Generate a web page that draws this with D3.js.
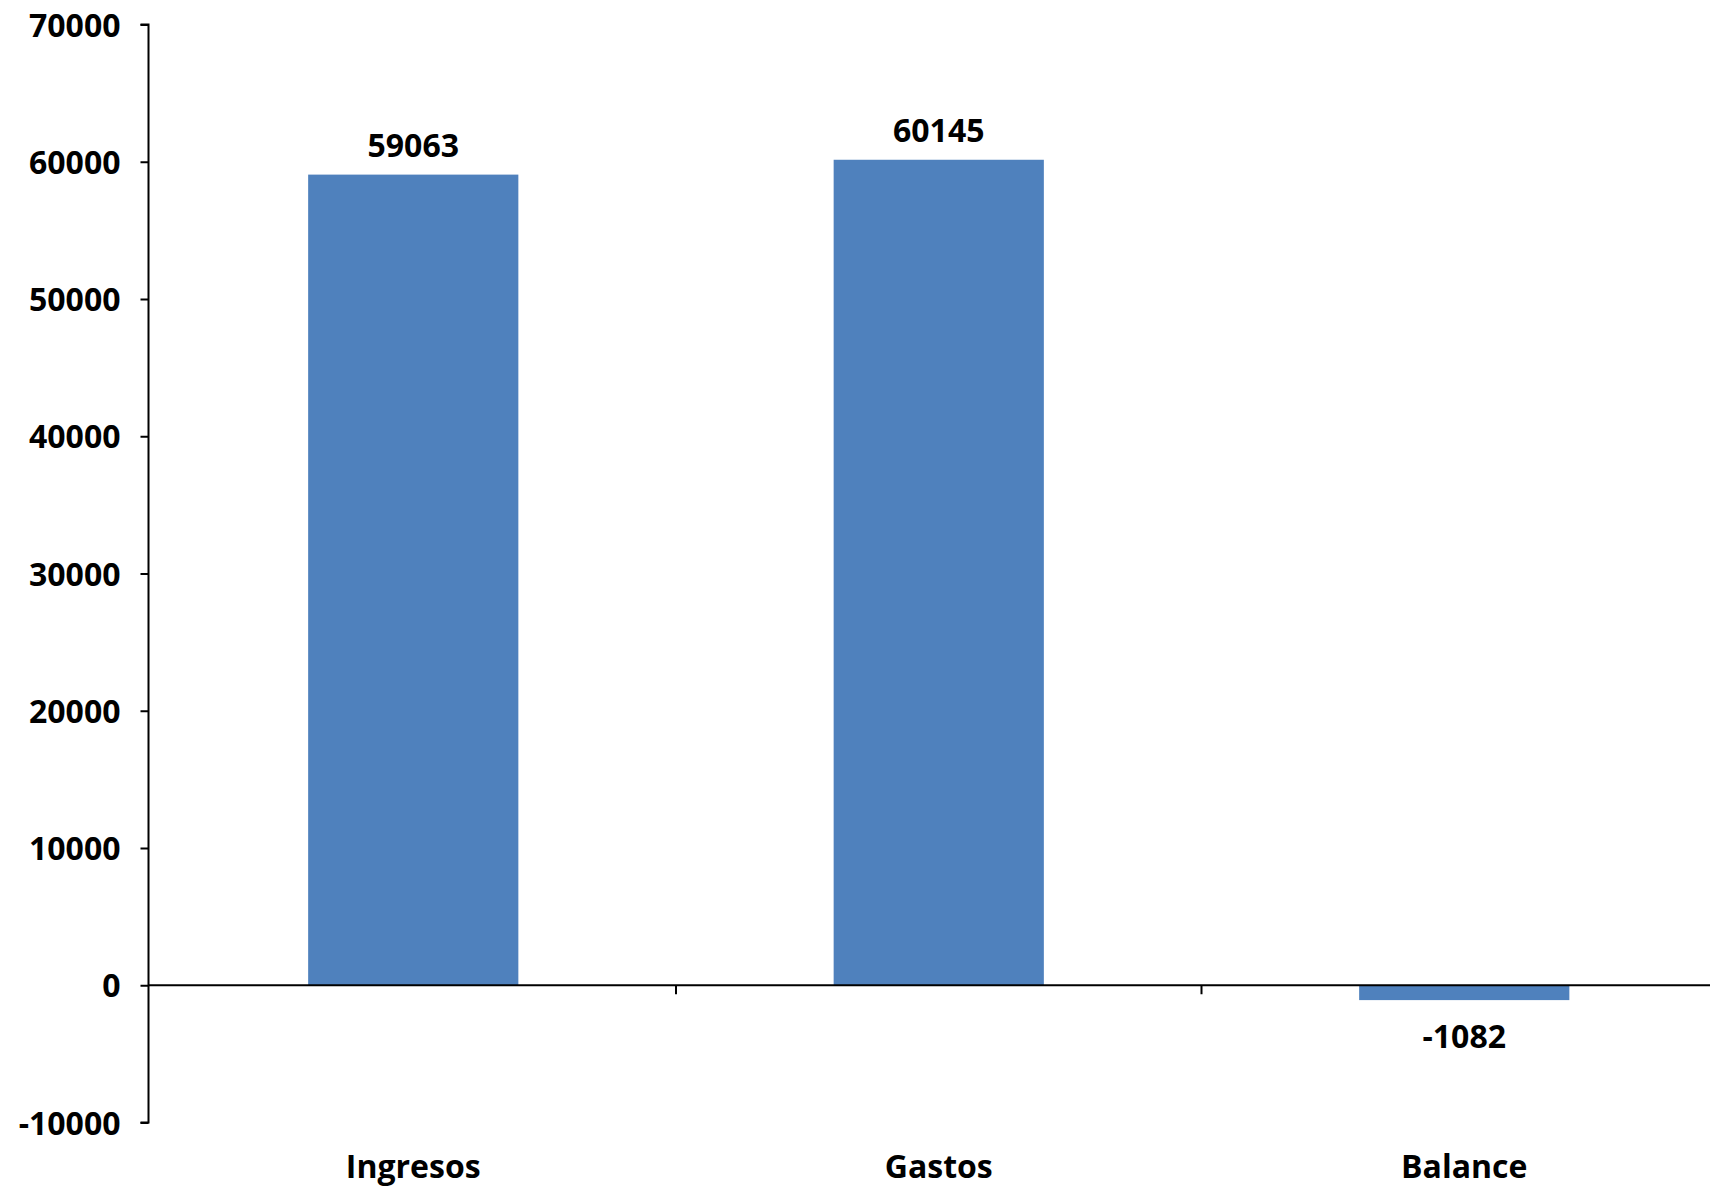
<!DOCTYPE html>
<html><head><meta charset="utf-8">
<script src="https://cdn.jsdelivr.net/npm/d3@7"></script>
<style>html,body{margin:0;padding:0;background:#fff;overflow:hidden}</style>
</head><body>
<script>
const categories = ["Ingresos", "Gastos", "Balance"];
const values = [59063, 60145, -1082];
const yTicks = [-10000, 0, 10000, 20000, 30000, 40000, 50000, 60000, 70000];

const W = 1710, H = 1188;
const font = "'Open Sans', sans-serif";
const fs = 32;
const svg = d3.select("body").append("svg").attr("width", W).attr("height", H);

const y = d3.scaleLinear().domain([-10000, 70000]).range([1122.5, 24.5]);
const x = d3.scaleBand().domain(categories).range([150.5, 1727]).paddingInner(0.6).paddingOuter(0.3);
const xTickScale = d3.scaleBand().domain(categories).range([150.5, 1727]);

// bars
svg.selectAll("rect.bar").data(values).enter().append("rect")
  .attr("x", (d, i) => x(categories[i]))
  .attr("width", x.bandwidth())
  .attr("y", d => y(Math.max(0, d)))
  .attr("height", d => Math.abs(y(d) - y(0)))
  .attr("fill", "#4F81BD");

// y axis
const yAxis = d3.axisLeft(y).tickValues(yTicks).tickSize(8).tickPadding(20).tickFormat(d => String(d));
const gy = svg.append("g").attr("transform", "translate(148.5,0)").call(yAxis);
gy.select(".domain").attr("stroke", "#000").attr("stroke-width", 2).attr("d", `M-8,${y(70000)}H0V${y(-10000)}H-8`);
gy.selectAll(".tick line").attr("stroke", "#000").attr("stroke-width", 2);
gy.selectAll(".tick text").attr("font-family", font).attr("font-weight", 700).attr("font-size", fs).attr("fill", "#000").attr("dy", "0.36em");

// zero line (x axis)
svg.append("line").attr("x1", 148.5).attr("x2", W).attr("y1", y(0)).attr("y2", y(0))
  .attr("stroke", "#000").attr("stroke-width", 2);

// category tick marks between bands
svg.selectAll("line.ctick").data(categories.slice(1)).enter().append("line")
  .attr("x1", d => xTickScale(d)).attr("x2", d => xTickScale(d))
  .attr("y1", y(0)).attr("y2", y(0) + 9)
  .attr("stroke", "#000").attr("stroke-width", 2);

// category labels
svg.selectAll("text.cat").data(categories).enter().append("text")
  .attr("x", d => x(d) + x.bandwidth() / 2)
  .attr("y", 1178)
  .attr("text-anchor", "middle")
  .attr("font-family", font).attr("font-weight", 700).attr("font-size", fs).attr("fill", "#000")
  .text(d => d);

// value labels
svg.selectAll("text.val").data(values).enter().append("text")
  .attr("x", (d, i) => x(categories[i]) + x.bandwidth() / 2)
  .attr("y", d => d >= 0 ? y(d) - 18 : y(d) + 48)
  .attr("text-anchor", "middle")
  .attr("font-family", font).attr("font-weight", 700).attr("font-size", fs).attr("fill", "#000")
  .text(d => d);
</script>
</body></html>
